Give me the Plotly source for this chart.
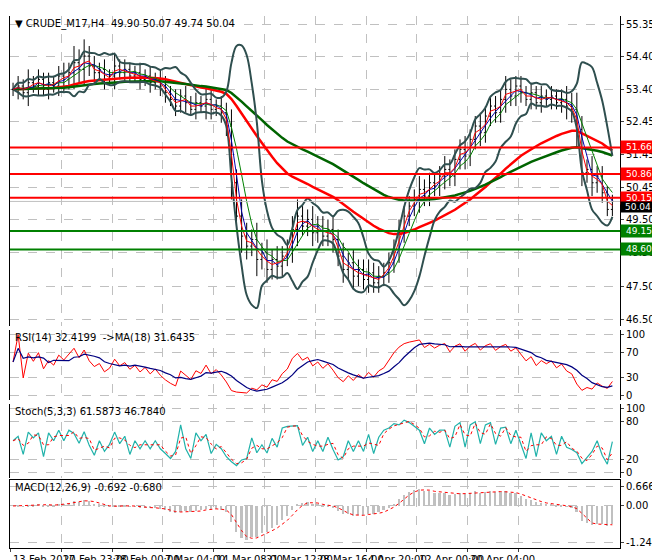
import numpy as np, pandas as pd
import plotly.graph_objects as go

closes = [53.4,53.5,53.3,53.6,53.5,53.7,53.4,53.6,53.5,53.8,53.7,53.9,
          54.2,54.0,54.4,54.1,
          53.9,54.0,53.7,53.8,54.1,53.9,54.0,53.8,53.9,53.7,53.8,53.6,53.7,53.5,
          53.3,53.1,52.9,53.2,53.0,52.8,53.0,52.9,53.1,52.8,52.9,52.7,
          52.3,50.6,49.6,49.0,48.7,48.9,48.3,48.5,48.0,48.3,48.1,48.4,48.6,49.2,49.6,49.3,
          49.5,49.1,49.3,49.0,49.2,48.9,48.4,48.0,48.2,47.8,48.0,47.7,47.9,47.6,47.8,47.9,
          48.2,48.6,49.1,49.6,49.9,50.1,50.4,50.2,50.6,50.5,50.8,51.0,50.8,51.3,51.6,51.4,
          51.9,52.3,52.1,52.6,52.9,52.7,53.1,53.4,53.2,53.5,53.3,53.1,53.3,53.0,53.2,53.1,
          53.2,53.0,53.1,52.9,52.8,52.2,50.9,51.0,50.6,50.8,50.3,49.8,50.04]
wicks = [0.2,0.3,0.2,0.4,0.2,0.3,0.2,0.3,0.2,0.3,0.4,0.3,0.5,0.4,0.5,0.3,
         0.3,0.2,0.3,0.2,0.4,0.2,0.3,0.2,0.2,0.3,0.2,0.3,0.2,0.3,0.3,0.2,0.3,0.2,0.3,0.2,
         0.3,0.2,0.4,0.3,0.2,0.3,0.3,0.5,0.4,0.5,0.4,0.3,0.5,0.3,0.4,0.3,0.4,0.3,0.3,0.4,
         0.5,0.3,0.3,0.4,0.3,0.3,0.3,0.4,0.3,0.4,0.3,0.4,0.3,0.3,0.4,0.3,0.3,0.3,0.3,0.3,
         0.4,0.3,0.3,0.3,0.4,0.3,0.3,0.3,0.3,0.4,0.3,0.3,0.3,0.4,0.3,0.3,0.4,0.3,0.3,0.3,
         0.3,0.4,0.3,0.3,0.3,0.2,0.3,0.2,0.3,0.2,0.3,0.2,0.3,0.4,0.4,0.5,0.4,0.3,0.4,0.3,0.3,0.2,0.2]
tick_idx = [0,10,20,30,40,50,60,70,80,90,100]
tick_labels = ["13 Feb 2017","20 Feb 23:00","28 Feb 00:00","7 Mar 04:00","14 Mar 08:00",
               "21 Mar 12:00","28 Mar 16:00","4 Apr 20:00","12 Apr 00:00","20 Apr 04:00",""]
red_levels = [51.66, 50.86, 50.15]
green_levels = [49.15, 48.60]
price_ticks = [55.35,54.40,53.40,52.45,51.45,50.45,49.50,48.50,47.50,46.50]

c = pd.Series(closes); n = len(c); x = np.arange(n)
o = c.shift(1).fillna(c.iloc[0]); w = pd.Series(wicks)
h = np.maximum(o, c) + w; l = np.minimum(o, c) - w

ma = lambda p: c.rolling(p, min_periods=1).mean()
bb_mid = ma(7); bb_sd = c.rolling(7, min_periods=1).std().fillna(0)
ema = lambda s, p: s.ewm(span=p, adjust=False).mean()
d = c.diff().fillna(0)
up = d.clip(lower=0).ewm(alpha=1/5, adjust=False).mean()
dn = (-d.clip(upper=0)).ewm(alpha=1/5, adjust=False).mean()
rsi = 100 - 100/(1+up/(dn+1e-9)); rsi.iloc[0] = 55
rsi_ma = rsi.rolling(6, min_periods=1).mean()
hh = h.rolling(2, min_periods=1).max(); ll = l.rolling(2, min_periods=1).min()
k = 100*(c-ll)/(hh-ll); dd = k.rolling(2, min_periods=1).mean()
macd = ema(c, 4) - ema(c, 9); sig = macd.rolling(3, min_periods=1).mean()

fig = go.Figure()
fig.add_trace(go.Scatter(x=x, y=ema(c, 33), line=dict(color="#ff0000", width=2.5)))
fig.add_trace(go.Scatter(x=x, y=ema(c, 60), line=dict(color="#006400", width=2.5)))
for s in [bb_mid+2*bb_sd, bb_mid-2*bb_sd]:
    fig.add_trace(go.Scatter(x=x, y=s, line=dict(color="#2f4f4f", width=2, shape="spline")))
fig.add_trace(go.Scatter(x=x, y=ma(5), line=dict(color="#008000", width=1)))
fig.add_trace(go.Scatter(x=x, y=ma(3), line=dict(color="#0000aa", width=1)))
fig.add_trace(go.Scatter(x=x, y=ma(2), line=dict(color="#ff0000", width=1)))
fig.add_trace(go.Ohlc(x=x, open=o, high=h, low=l, close=c, tickwidth=0.3,
    increasing=dict(line=dict(color="black", width=1)), decreasing=dict(line=dict(color="black", width=1))))
fig.add_trace(go.Scatter(x=x, y=rsi, line=dict(color="#ff0000", width=1), yaxis="y2"))
fig.add_trace(go.Scatter(x=x, y=rsi_ma, line=dict(color="#000080", width=1.2), yaxis="y2"))
fig.add_trace(go.Scatter(x=x, y=k, line=dict(color="#20b2aa", width=1.2), yaxis="y3"))
fig.add_trace(go.Scatter(x=x, y=dd, line=dict(color="#ff0000", width=1, dash="dot"), yaxis="y3"))
fig.add_trace(go.Bar(x=x, y=macd, marker=dict(color="#c0c0c0", line=dict(width=0)), width=0.35, yaxis="y4"))
fig.add_trace(go.Scatter(x=x, y=sig, line=dict(color="#ff0000", width=1, dash="dot"), yaxis="y4"))

tf = dict(size=10, color="black", family="DejaVu Sans")
bf = dict(size=9, color="white", family="DejaVu Sans")
shapes = []; ann = []
for lv in red_levels + green_levels:
    col = "#ff0000" if lv in red_levels else "#008000"
    shapes.append(dict(type="line", xref="paper", x0=0, x1=1, yref="y", y0=lv, y1=lv, line=dict(color=col, width=2)))
    ann.append(dict(xref="paper", x=1.0, y=lv, yref="y", text=f"{lv:.2f}", showarrow=False, xanchor="left",
                    bgcolor=col, font=bf, borderpad=1, width=34))
shapes.append(dict(type="line", xref="paper", x0=0, x1=1, yref="y", y0=50.04, y1=50.04, line=dict(color="#c0c0c0", width=1)))
ann.append(dict(xref="paper", x=1.0, y=50.04, yref="y", text="50.04", showarrow=False, xanchor="left",
                bgcolor="black", font=bf, borderpad=0, width=34, yshift=-6))
for i, t in zip(tick_idx, tick_labels):
    if t:
        ann.append(dict(xref="x", yref="paper", x=i - 0.5, y=0, yshift=-4, text=t, showarrow=False,
                        xanchor="left", yanchor="top", font=tf))
ann += [dict(xref="paper", yref="paper", x=0.005, y=1.0, text="▼ CRUDE_M17,H4  49.90 50.07 49.74 50.04", showarrow=False, xanchor="left", yanchor="top", font=tf),
        dict(xref="paper", yref="paper", x=0.005, y=0.410, text="RSI(14) 32.4199  ->MA(18) 31.6435", showarrow=False, xanchor="left", yanchor="top", font=tf),
        dict(xref="paper", yref="paper", x=0.005, y=0.271, text="Stoch(5,3,3) 61.5873 46.7840", showarrow=False, xanchor="left", yanchor="top", font=tf),
        dict(xref="paper", yref="paper", x=0.005, y=0.128, text="MACD(12,26,9) -0.692 -0.680", showarrow=False, xanchor="left", yanchor="top", font=tf)]

grid = dict(showgrid=True, gridcolor="#c0c0c0", griddash="dash", gridwidth=1)
ax = dict(side="right", showline=True, linecolor="black", mirror=True, ticks="outside", ticklen=3, zeroline=False, tickfont=tf, **grid)
fig.update_layout(
    width=660, height=560, margin=dict(l=2, r=48, t=8, b=20), showlegend=False, bargap=0,
    plot_bgcolor="white", paper_bgcolor="white", shapes=shapes, annotations=ann,
    xaxis=dict(range=[-0.6, 119.5], tickvals=[i - 0.5 for i in tick_idx], showticklabels=False, ticks="outside", ticklen=3,
               showline=True, linecolor="black", mirror=True, rangeslider=dict(visible=False), anchor="y4", **grid),
    yaxis=dict(domain=[0.417, 1], range=[46.3, 55.6], tickvals=price_ticks, tickformat=".2f", **ax),
    yaxis2=dict(domain=[0.278, 0.410], range=[-8, 108], tickvals=[0, 30, 70, 100], **ax),
    yaxis3=dict(domain=[0.132, 0.271], range=[-8, 108], tickvals=[0, 20, 80, 100], **ax),
    yaxis4=dict(domain=[0, 0.128], range=[-1.45, 0.9], tickvals=[-1.246, 0, 0.666], ticktext=["-1.246", "0.00", "0.666"], **ax),
)
fig.write_html("out.html")
